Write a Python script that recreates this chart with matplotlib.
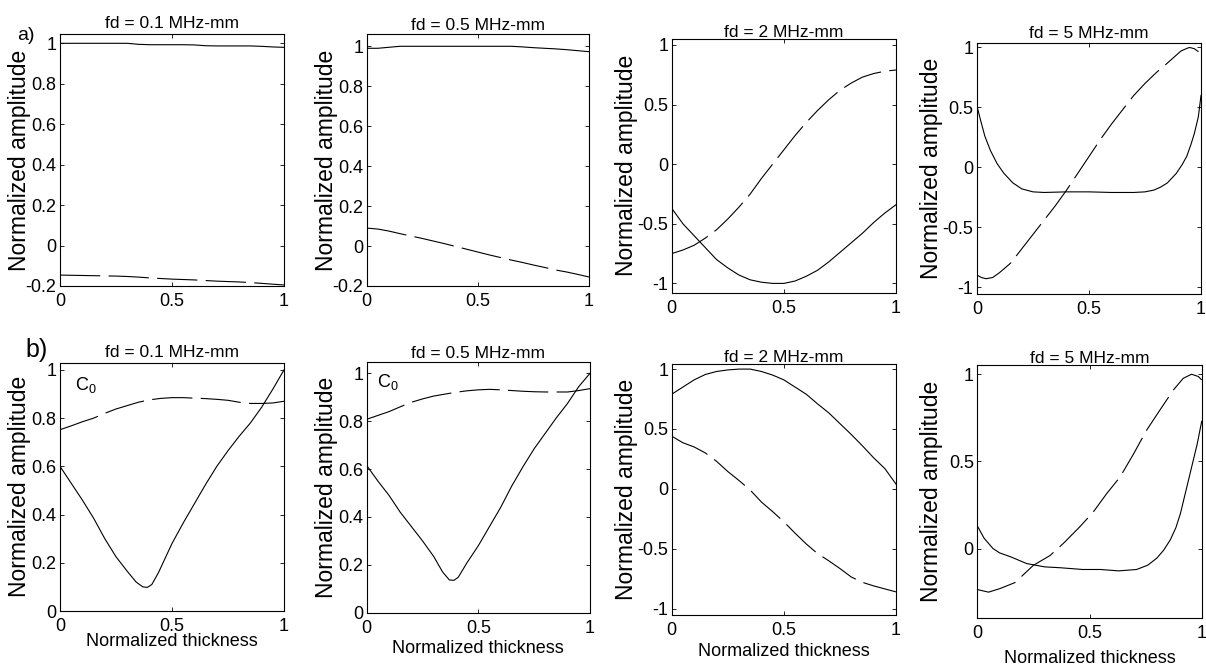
import matplotlib
matplotlib.use("Agg")
import matplotlib.pyplot as plt

plt.rcParams['font.family'] = ['Liberation Sans', 'DejaVu Sans']
plt.rcParams['axes.unicode_minus'] = False
plt.rcParams['lines.scale_dashes'] = False

# ---------------- data ----------------
titles_top = ["fd = 0.1 MHz-mm", "fd = 0.5 MHz-mm", "fd = 2 MHz-mm", "fd = 5 MHz-mm"]
titles_bot = ["fd = 0.1 MHz-mm", "fd = 0.5 MHz-mm", "fd = 2 MHz-mm", "fd = 5 MHz-mm"]

x21 = [0.0, 0.05, 0.1, 0.15, 0.2, 0.25, 0.3, 0.35, 0.4, 0.45, 0.5,
       0.55, 0.6, 0.65, 0.7, 0.75, 0.8, 0.85, 0.9, 0.95, 1.0]

# row a
a1_solid = [1.0, 1.0, 1.0, 1.0, 1.0, 1.0, 1.0, 0.995, 0.993, 0.993, 0.993,
            0.993, 0.992, 0.988, 0.987, 0.987, 0.987, 0.987, 0.985, 0.982, 0.98]
a1_dash = [-0.146, -0.147, -0.148, -0.149, -0.150, -0.151, -0.153, -0.156, -0.160, -0.163, -0.166,
           -0.168, -0.170, -0.173, -0.176, -0.178, -0.180, -0.183, -0.187, -0.191, -0.195]

a2_solid = [0.99, 0.99, 0.995, 1.0, 1.0, 1.0, 1.0, 1.0, 1.0, 1.0, 1.0,
            1.0, 1.0, 1.0, 0.997, 0.993, 0.99, 0.987, 0.983, 0.978, 0.973]
a2_dash = [0.09, 0.085, 0.075, 0.062, 0.05, 0.038, 0.025, 0.012, -0.002, -0.016, -0.03,
           -0.044, -0.057, -0.07, -0.082, -0.095, -0.107, -0.12, -0.13, -0.142, -0.155]

a3_solid = [-0.37, -0.50, -0.60, -0.70, -0.80, -0.87, -0.93, -0.97, -0.99, -1.0, -1.0,
            -0.98, -0.94, -0.89, -0.82, -0.74, -0.66, -0.58, -0.49, -0.41, -0.34]
a3_dash = [-0.75, -0.72, -0.68, -0.62, -0.55, -0.46, -0.36, -0.25, -0.12, 0.0, 0.12,
           0.24, 0.35, 0.45, 0.54, 0.62, 0.68, 0.73, 0.76, 0.78, 0.79]

a4_x_solid = [0, 0.015, 0.035, 0.06, 0.09, 0.12, 0.16, 0.2, 0.25, 0.3, 0.4, 0.5, 0.6, 0.7,
              0.75, 0.79, 0.82, 0.85, 0.89, 0.915, 0.936, 0.955, 0.97, 0.988, 1.0]
a4_solid = [0.51, 0.40, 0.26, 0.14, 0.03, -0.05, -0.13, -0.18, -0.205, -0.21, -0.205, -0.205, -0.21, -0.21,
            -0.205, -0.19, -0.165, -0.13, -0.05, 0.02, 0.09, 0.19, 0.28, 0.42, 0.60]
a4_x_dash = [0, 0.02, 0.04, 0.07, 0.1, 0.15, 0.2, 0.25, 0.3, 0.35, 0.4, 0.45, 0.5, 0.55, 0.6,
             0.65, 0.7, 0.75, 0.8, 0.85, 0.88, 0.91, 0.94, 0.95, 0.97, 1.0]
a4_dash = [-0.90, -0.92, -0.93, -0.92, -0.88, -0.80, -0.68, -0.56, -0.44, -0.32, -0.19, -0.05, 0.09, 0.23, 0.36,
           0.48, 0.60, 0.70, 0.79, 0.87, 0.92, 0.97, 0.995, 1.0, 0.99, 0.95]

# row b
b1_x_solid = [0, 0.05, 0.1, 0.15, 0.2, 0.25, 0.3, 0.34, 0.37, 0.39, 0.41, 0.44, 0.5,
              0.55, 0.6, 0.65, 0.7, 0.75, 0.8, 0.85, 0.9, 0.95, 1.0]
b1_solid = [0.60, 0.53, 0.46, 0.385, 0.30, 0.225, 0.165, 0.12, 0.10, 0.098, 0.11, 0.16, 0.28,
            0.365, 0.445, 0.525, 0.60, 0.665, 0.725, 0.78, 0.845, 0.92, 1.0]
b1_dash = [0.752, 0.768, 0.785, 0.80, 0.82, 0.838, 0.852, 0.866, 0.876, 0.882, 0.885,
           0.885, 0.883, 0.881, 0.878, 0.874, 0.866, 0.861, 0.861, 0.863, 0.87]

b2_x_solid = [0, 0.05, 0.1, 0.15, 0.2, 0.25, 0.3, 0.34, 0.37, 0.39, 0.41, 0.45, 0.5,
              0.55, 0.6, 0.65, 0.7, 0.75, 0.8, 0.85, 0.9, 0.95, 1.0]
b2_solid = [0.615, 0.55, 0.49, 0.42, 0.36, 0.30, 0.235, 0.17, 0.137, 0.135, 0.148, 0.21, 0.28,
            0.36, 0.44, 0.53, 0.61, 0.685, 0.75, 0.815, 0.875, 0.945, 1.0]
b2_dash = [0.808, 0.824, 0.84, 0.86, 0.879, 0.893, 0.905, 0.913, 0.921, 0.927, 0.931,
           0.933, 0.931, 0.928, 0.925, 0.923, 0.922, 0.922, 0.922, 0.928, 0.936]

b3_solid = [0.79, 0.85, 0.91, 0.955, 0.98, 0.993, 1.0, 1.0, 0.98, 0.95, 0.91,
            0.85, 0.79, 0.71, 0.635, 0.545, 0.455, 0.36, 0.26, 0.17, 0.04]
b3_dash = [0.44, 0.385, 0.35, 0.30, 0.23, 0.145, 0.07, -0.01, -0.11, -0.19, -0.275,
           -0.37, -0.46, -0.54, -0.60, -0.665, -0.735, -0.78, -0.81, -0.835, -0.86]

b4_x_solid = [0, 0.03, 0.07, 0.1, 0.15, 0.22, 0.3, 0.37, 0.47, 0.55, 0.63, 0.71, 0.76, 0.8,
              0.83, 0.86, 0.885, 0.905, 0.92, 0.935, 0.95, 0.965, 0.98, 1.0]
b4_solid = [0.13, 0.06, 0.0, -0.025, -0.048, -0.086, -0.105, -0.11, -0.12, -0.12, -0.128, -0.12, -0.095, -0.055,
            -0.01, 0.05, 0.12, 0.2, 0.28, 0.36, 0.44, 0.52, 0.6, 0.73]
b4_x_dash = [0, 0.05, 0.1, 0.168, 0.25, 0.324, 0.383, 0.457, 0.517, 0.577, 0.636, 0.695,
             0.755, 0.814, 0.874, 0.918, 0.955, 0.985, 1.0]
b4_dash = [-0.235, -0.25, -0.23, -0.195, -0.096, -0.04, 0.029, 0.125, 0.21, 0.316, 0.41, 0.54,
           0.68, 0.795, 0.91, 0.977, 1.0, 0.987, 0.967]

xticks = [0, 0.5, 1]
xtick_labels = ["0", "0.5", "1"]
yt_a12 = [-0.2, 0, 0.2, 0.4, 0.6, 0.8, 1]
yl_a12 = ["-0.2", "0", "0.2", "0.4", "0.6", "0.8", "1"]
yt_pm1 = [-1, -0.5, 0, 0.5, 1]
yl_pm1 = ["-1", "-0.5", "0", "0.5", "1"]
yt_b12 = [0, 0.2, 0.4, 0.6, 0.8, 1]
yl_b12 = ["0", "0.2", "0.4", "0.6", "0.8", "1"]
yt_b4 = [0, 0.5, 1]
yl_b4 = ["0", "0.5", "1"]

# ---------------- layout ----------------
W, H = 1206, 672
fig = plt.figure(figsize=(W / 100, H / 100), dpi=100)


def make_ax(l, r, t, b):
    return fig.add_axes([l / W, 1 - b / H, (r - l) / W, (b - t) / H])


panels = [
    # (box, xs, solid, xd, dash, ylim, yticks, ylabels, title, title_pad, ylab_x)
    ((60, 284, 34, 286), x21, a1_solid, x21, a1_dash, (-0.2, 1.046), yt_a12, yl_a12, titles_top[0], 4.3, -0.128),
    ((366.7, 589, 34.3, 286), x21, a2_solid, x21, a2_dash, (-0.2, 1.06), yt_a12, yl_a12, titles_top[1], 2.9, -0.128),
    ((671.7, 896, 39, 292.7), x21, a3_solid, x21, a3_dash, (-1.078, 1.05), yt_pm1, yl_pm1, titles_top[2], 1.7, -0.152),
    ((977, 1201, 42.7, 294.3), a4_x_solid, a4_solid, a4_x_dash, a4_dash, (-1.06, 1.04), yt_pm1, yl_pm1, titles_top[3], 3.4, -0.152),
    ((60, 284, 362.7, 611), b1_x_solid, b1_solid, x21, b1_dash, (0, 1.03), yt_b12, yl_b12, titles_bot[0], 4.3, -0.128),
    ((366.7, 590, 362.3, 612.7), b2_x_solid, b2_solid, x21, b2_dash, (0, 1.046), yt_b12, yl_b12, titles_bot[1], 2.9, -0.128),
    ((671.7, 896, 364.3, 615), x21, b3_solid, x21, b3_dash, (-1.053, 1.04), yt_pm1, yl_pm1, titles_bot[2], 1.9, -0.152),
    ((977.3, 1201.7, 365, 618.3), b4_x_solid, b4_solid, b4_x_dash, b4_dash, (-0.40, 1.053), yt_b4, yl_b4, titles_bot[3], 1.1, -0.152),
]

xlabel_y = [-0.088, -0.108, -0.112, -0.126]

axes = []
for i, (box, xs, ys, xd, yd, ylim, yt, yl, title, tpad, ylx) in enumerate(panels):
    ax = make_ax(*box)
    axes.append(ax)
    ax.plot(xs, ys, color='black', lw=0.8)
    ax.plot(xd, yd, color='black', lw=0.8, linestyle=(0, (29, 6)))
    ax.set_xlim(0, 1)
    ax.set_ylim(*ylim)
    ax.set_xticks(xticks)
    ax.set_xticklabels(xtick_labels)
    ax.set_yticks(yt)
    ax.set_yticklabels(yl)
    ax.tick_params(direction='in', length=3, width=0.6, top=True, right=True,
                   labelsize=13, colors='black')
    ax.tick_params(axis='x', pad=5)
    ax.tick_params(axis='y', pad=2.5)
    for sp in ax.spines.values():
        sp.set_linewidth(0.8)
    ax.set_title(title, fontsize=12.5, pad=tpad)
    ax.set_ylabel("Normalized amplitude", fontsize=16.5)
    ax.yaxis.set_label_coords(ylx, 0.5)
    if i >= 4:
        ax.set_xlabel("Normalized thickness", fontsize=13)
        ax.xaxis.set_label_coords(0.5, xlabel_y[i - 4])

# mode labels
axes[4].text(0.067, 0.91, r"$\mathregular{C_0}$", transform=axes[4].transAxes,
             fontsize=13, va='center', ha='left')
axes[5].text(0.046, 0.92, r"$\mathregular{C_0}$", transform=axes[5].transAxes,
             fontsize=13, va='center', ha='left')

# panel letters
fig.text(17 / W, 1 - 35 / H, "a)", fontsize=14, va='center', ha='left')
fig.text(25 / W, 1 - 350 / H, "b)", fontsize=18, va='center', ha='left')

fig.savefig("out.png", dpi=100)
